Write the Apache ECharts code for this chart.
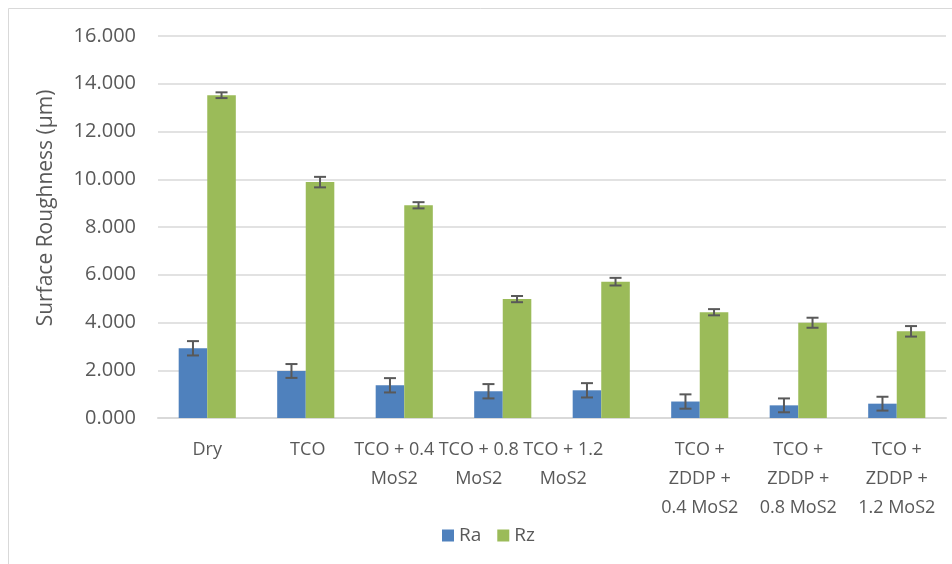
<!DOCTYPE html>
<html>
<head>
<meta charset="utf-8">
<script src="https://cdn.jsdelivr.net/npm/echarts@6/dist/echarts.min.js"></script>
<style>html,body{margin:0;padding:0;background:#fff}#c{width:952px;height:564px}</style>
</head>
<body>
<div id="c"></div>
<script>
var categories = ["Dry", "TCO", "TCO + 0.4\nMoS2", "TCO + 0.8\nMoS2", "TCO + 1.2\nMoS2",
  "TCO +\nZDDP +\n0.4 MoS2", "TCO +\nZDDP +\n0.8 MoS2", "TCO +\nZDDP +\n1.2 MoS2"];
var seriesNames = ["Ra", "Rz"];
var raValues = [2.92, 1.97, 1.37, 1.12, 1.16, 0.69, 0.53, 0.60];
var raErrors = [0.30, 0.29, 0.30, 0.30, 0.30, 0.30, 0.29, 0.29];
var rzValues = [13.52, 9.88, 8.91, 4.98, 5.71, 4.43, 3.99, 3.63];
var rzErrors = [0.12, 0.22, 0.13, 0.13, 0.16, 0.13, 0.21, 0.22];
var yTicks = [0, 2, 4, 6, 8, 10, 12, 14, 16];

// label styling: horizontal nudge (px) of each category label, as in the original layout
var labelNudge = [0, 2, -10, -24, -38, 0, 0, 0];

var FONT = "Open Sans";
var GAP = 0.42;
var LABEL_SIZE = 18;

function errData(vals, errs) {
  return vals.map(function (v, i) { return [i, v - errs[i], v + errs[i]]; });
}
function errSeries(vals, errs, side) {
  return {
    type: 'custom',
    silent: true,
    z: 10,
    data: errData(vals, errs),
    encode: { x: 0, y: [1, 2] },
    renderItem: function (params, api) {
      var i = api.value(0);
      var lo = api.coord([i, api.value(1)]);
      var hi = api.coord([i, api.value(2)]);
      var band = api.size([1, 0])[0];
      var bw = band * (1 - GAP) / 2;
      var x = lo[0] + side * bw / 2;
      var cap = 6;
      var st = { stroke: '#595959', lineWidth: 2 };
      return {
        type: 'group',
        children: [
          { type: 'line', shape: { x1: x, y1: lo[1], x2: x, y2: hi[1] }, style: st },
          { type: 'line', shape: { x1: x - cap, y1: lo[1], x2: x + cap, y2: lo[1] }, style: st },
          { type: 'line', shape: { x1: x - cap, y1: hi[1], x2: x + cap, y2: hi[1] }, style: st }
        ]
      };
    }
  };
}

var rich = {};
labelNudge.forEach(function (n, i) {
  rich['s' + i] = {
    color: '#595959', fontSize: LABEL_SIZE, lineHeight: 29, fontFamily: FONT,
    padding: n < 0 ? [0, -2 * n, 0, 0] : [0, 0, 0, 2 * n]
  };
});

var chart = echarts.init(document.getElementById('c'));
chart.setOption({
  animation: false,
  backgroundColor: '#fff',
  textStyle: { fontFamily: FONT },
  graphic: [
    { type: 'rect', shape: { x: 8.5, y: 8.5, width: 1200, height: 1200 }, style: { fill: 'none', stroke: '#d9d9d9', lineWidth: 1 }, silent: true },
    { type: 'text', x: 46, y: 208, rotation: Math.PI / 2, silent: true,
      style: { text: 'Surface Roughness (µm)', fill: '#595959', font: '21px "' + FONT + '"', textAlign: 'center', textVerticalAlign: 'middle' } }
  ],
  grid: { left: 158, right: 6, top: 36, bottom: 146, containLabel: false },
  legend: {
    data: seriesNames,
    left: 437, top: 521,
    itemWidth: 12, itemHeight: 12, itemGap: 16,
    icon: 'rect',
    textStyle: { color: '#595959', fontSize: 19, fontFamily: FONT }
  },
  xAxis: {
    type: 'category',
    data: categories,
    axisLine: { lineStyle: { color: '#d9d9d9', width: 2 } },
    axisTick: { show: false },
    axisLabel: {
      color: '#595959', fontSize: LABEL_SIZE, lineHeight: 29, margin: 17, interval: 0, fontFamily: FONT,
      formatter: function (v, idx) {
        return v.split('\n').map(function (line) { return '{s' + idx + '|' + line + '}'; }).join('\n');
      },
      rich: rich
    }
  },
  yAxis: {
    type: 'value',
    min: 0, max: 16, interval: 2,
    axisLine: { show: false },
    axisTick: { show: false },
    splitLine: { lineStyle: { color: '#d9d9d9', width: 1.5 } },
    axisLabel: { color: '#595959', fontSize: 20, margin: 22, fontFamily: FONT,
      formatter: function (v) { return yTicks.indexOf(v) >= 0 ? v.toFixed(3) : ''; } }
  },
  series: [
    { name: seriesNames[0], type: 'bar', data: raValues, barGap: '0%', barCategoryGap: (GAP * 100) + '%',
      itemStyle: { color: '#4F81BD' } },
    { name: seriesNames[1], type: 'bar', data: rzValues, barGap: '0%', barCategoryGap: (GAP * 100) + '%',
      itemStyle: { color: '#9BBB59' } },
    errSeries(raValues, raErrors, -1),
    errSeries(rzValues, rzErrors, 1)
  ]
});
</script>
</body>
</html>
